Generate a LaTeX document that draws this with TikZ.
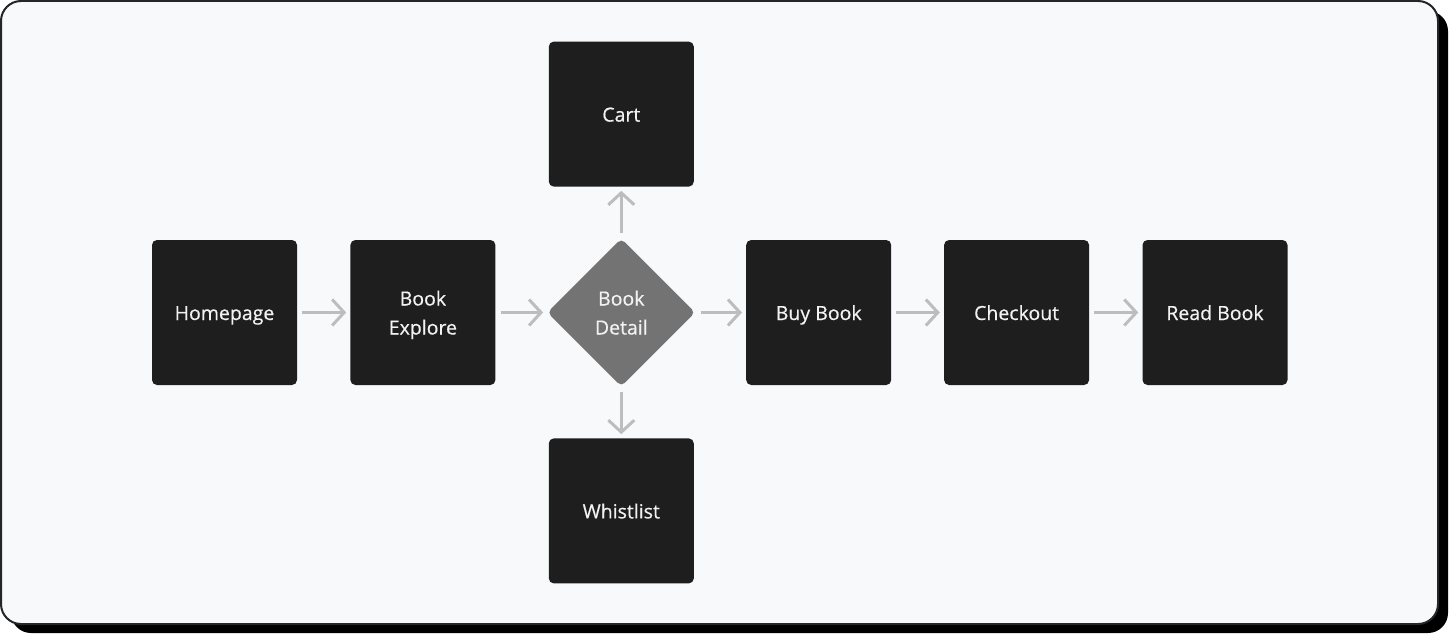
\documentclass[tikz,border=0pt]{standalone}
\usepackage{fontspec}
\setmainfont{Open Sans}[FakeBold=0.5]
\usetikzlibrary{arrows.meta,positioning,shapes.geometric}

\definecolor{boxfill}{HTML}{1E1E1E}
\definecolor{decfill}{HTML}{737373}
\definecolor{pagebg}{HTML}{F8F9FB}
\definecolor{arrgray}{HTML}{BDBDBD}
\definecolor{txtwhite}{HTML}{F2F2F2}

% one line of text with a fixed height and depth
\newcommand{\fixline}[1]{\raisebox{0pt}[19pt][4pt]{#1}}

\begin{document}
\begin{tikzpicture}[
  x=1pt, y=1pt,
  font=\fontsize{19.5}{29}\selectfont,
  screen/.style={fill=boxfill, rounded corners=5pt, align=center, text=txtwhite,
    minimum width=145pt, minimum height=145pt, inner sep=0pt},
  decision/.style={diamond, fill=decfill, rounded corners=5pt, align=center, text=txtwhite,
    minimum width=148pt, minimum height=148pt, inner sep=0pt, aspect=1},
  arr/.style={-{Straight Barb[length=12pt, width=26pt, line width=3pt]}, line width=3pt,
    draw=arrgray, shorten <=5pt, shorten >=4pt}
]
\useasboundingbox (0,0) rectangle (1449,-634);

% card with shadow
\fill[black, rounded corners=20pt] (11,-11) rectangle (1448,-633);
\draw[fill=pagebg, draw=black!85, line width=2pt, rounded corners=20pt] (1,-1) rectangle (1438,-624);

\node[screen] (home) at (224.5,-312.5) {\fixline{Homepage}};
\node[screen, right=53pt of home] (explore) {\fixline{Book}\\\fixline{Explore}};
\node[decision, right=51.5pt of explore] (detail) {\fixline{Book}\\\fixline{Detail}};
\node[screen, above=51.5pt of detail] (cart) {\fixline{Cart}};
\node[screen, below=51.5pt of detail] (wish) {\fixline{Whistlist}};
\node[screen, right=50.5pt of detail] (buy) {\fixline{Buy Book}};
\node[screen, right=52.5pt of buy] (checkout) {\fixline{Checkout}};
\node[screen, right=53pt of checkout] (read) {\fixline{Read Book}};

\draw[arr] (home) -- (explore);
\draw[arr] (explore) -- (detail);
\draw[arr] (detail) -- (cart);
\draw[arr] (detail) -- (wish);
\draw[arr] (detail) -- (buy);
\draw[arr] (buy) -- (checkout);
\draw[arr] (checkout) -- (read);

\end{tikzpicture}
\end{document}
